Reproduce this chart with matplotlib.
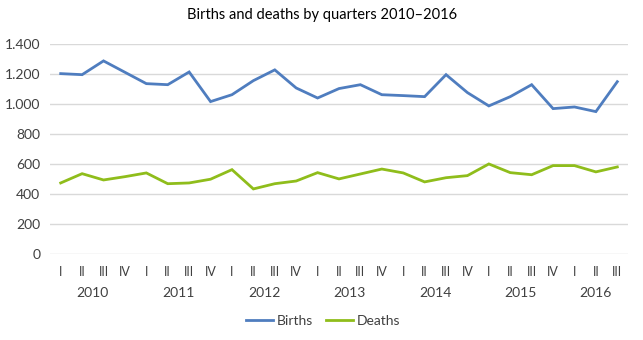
import matplotlib

matplotlib.use("Agg")
import matplotlib.pyplot as plt
import numpy as np

plt.rcParams["font.family"] = ["Lato", "DejaVu Sans"]

# ---- data ----
years = ["2010", "2011", "2012", "2013", "2014", "2015", "2016"]
quarters = ["I", "II", "III", "IV"]
births = [1204, 1197, 1289, 1213, 1137, 1130, 1215, 1017, 1063, 1157, 1229, 1108, 1041,
          1104, 1130, 1063, 1057, 1050, 1197, 1077, 988, 1050, 1130, 970, 981, 950, 1150]
deaths = [473, 535, 493, 515, 540, 468, 473, 498, 562, 433, 468, 486, 542,
          500, 533, 566, 540, 480, 508, 522, 600, 542, 528, 589, 589, 547, 580]

n = len(births)
x = np.arange(n)
qlabels = [quarters[i % 4] for i in range(n)]

BLUE = "#4f7dbf"
GREEN = "#8fbd1b"
TXT = "#404040"

fig = plt.figure(figsize=(6.43, 3.40), dpi=100)
ax = fig.add_axes([50 / 643, 1 - 253.7 / 340, 578 / 643, 209.4 / 340])

ax.plot(x, births, color=BLUE, lw=2.0, label="Births", solid_joinstyle="miter")
ax.plot(x, deaths, color=GREEN, lw=2.0, label="Deaths", solid_joinstyle="miter")

ax.set_xlim(-0.5, n - 0.5)
ax.set_ylim(0, 1400)
ax.set_yticks(np.arange(0, 1401, 200))
ax.set_yticklabels([f"{v:,}".replace(",", ".") for v in range(0, 1401, 200)],
                   fontsize=10, color=TXT)
ax.yaxis.grid(True, color="#d9d9d9", lw=1.0)
ax.set_axisbelow(True)
for s in ax.spines.values():
    s.set_visible(False)
ax.tick_params(axis="y", length=0, pad=7)
ax.set_xticks(x)
ax.set_xticklabels(qlabels, fontsize=9, color=TXT)
ax.tick_params(axis="x", length=0, pad=9)

# year labels centred under each group of quarters
for i, yr in enumerate(years):
    idx = [k for k in range(i * 4, min(i * 4 + 4, n))]
    xc = (idx[0] + idx[-1]) / 2
    ax.text(xc, -1400 * 39.5 / 209.4, yr, ha="center", va="center",
            fontsize=10, color=TXT)

fig.text(322 / 643, 1 - 15 / 340, "Births and deaths by quarters 2010–2016",
         ha="center", va="center", fontsize=10.5, color="black")

fig.legend(loc="center", bbox_to_anchor=(323 / 643, 1 - 321 / 340), ncol=2,
           frameon=False, fontsize=10, handlelength=2.0, columnspacing=0.9,
           handletextpad=0.25, labelcolor=TXT)

fig.savefig("out.png", dpi=100)
